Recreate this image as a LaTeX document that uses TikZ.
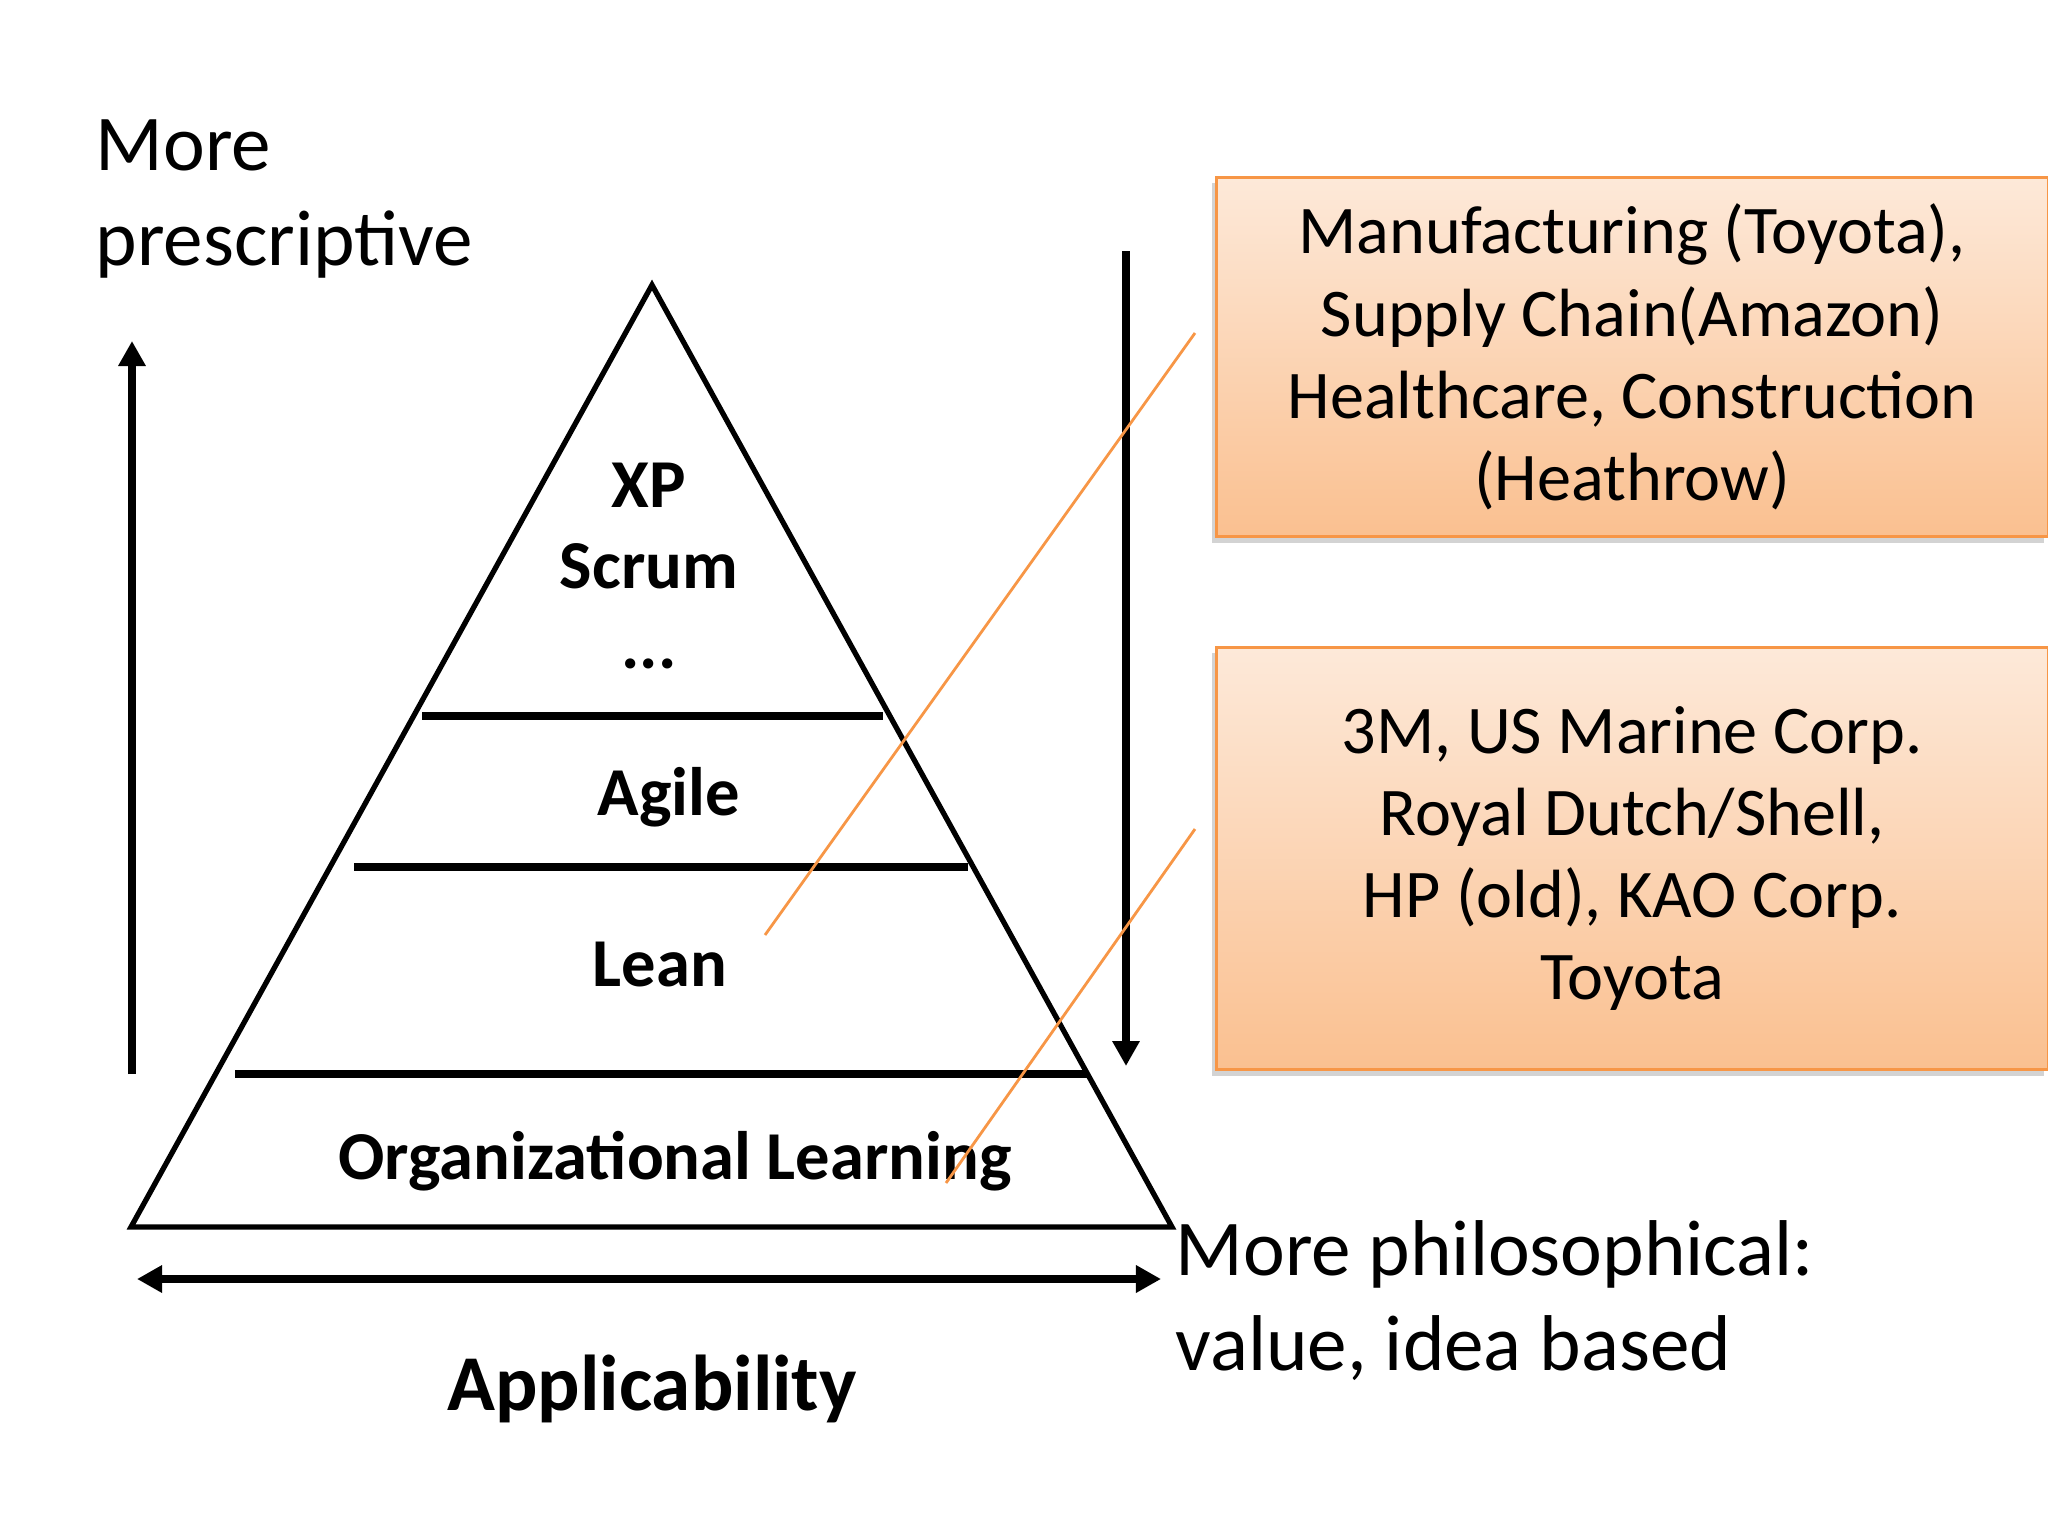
\documentclass[tikz,border=0pt]{standalone}
\usepackage{fontspec}
\setmainfont{Carlito}
\usetikzlibrary{arrows.meta,shadows}

\definecolor{boxline}{HTML}{F79646}
\definecolor{boxtop}{HTML}{FDE9D9}
\definecolor{boxbottom}{HTML}{FAC090}

\begin{document}
\begin{tikzpicture}[x=0.01cm, y=-0.01cm]
	\tikzstyle{tier}=[inner sep=0, font=\fontsize{19.5}{23}\selectfont\bfseries, align=center]
	\tikzstyle{sidetext}=[inner sep=0, font=\fontsize{22.5}{27}\selectfont, align=left]
	\tikzstyle{note}=[draw=boxline, line width=0.8pt, top color=boxtop, bottom color=boxbottom,
		minimum width=8.31cm, inner sep=0, font=\fontsize{19.4}{23.4}\selectfont, align=center,
		drop shadow={shadow xshift=-0.4mm, shadow yshift=-0.6mm, opacity=0.35}]
	\tikzstyle{bigarrow}=[line width=2.4pt, >={Triangle[length=0.25cm, width=0.26cm]}]
	\tikzstyle{link}=[draw=boxline, line width=0.8pt]
	\useasboundingbox (0,0) rectangle (2048,1536);
	% Pyramid
	\draw[line width=1.5pt, line join=miter] (131,1227) -- (652,285) -- (1172,1227) -- cycle;
	\foreach \xa/\xb/\y in {422/883/716, 354/968/867, 235/1087/1074}
		\draw[line width=2.3pt] (\xa,\y) -- (\xb,\y);
	% Tiers
	\node[tier] (top) at (649,566) {XP\\Scrum\\...};
	\node[tier, anchor=base] (agile) at (669,815) {Agile};
	\node[tier, anchor=base] (lean) at (660,986) {Lean};
	\node[tier, anchor=base] (org) at (675,1179) {Organizational Learning};
	\node[tier, anchor=base, font=\fontsize{22.5}{27}\selectfont\bfseries] (appl) at (652,1410) {Applicability};
	% Side texts
	\node[sidetext, anchor=base west] (prescr) at (95,265) {More\\prescriptive};
	\node[sidetext, anchor=base west] (philo) at (1175,1370) {More philosophical:\\value, idea based};
	% Arrows
	\coordinate (up_1) at (132,1074);
	\coordinate (up_2) at (132,341);
	\coordinate (down_1) at (1126,251);
	\coordinate (down_2) at (1126,1066);
	\coordinate (wide_1) at (137,1279);
	\coordinate (wide_2) at (1161,1279);
	\draw[bigarrow, ->] (up_1) -- (up_2);
	\draw[bigarrow, ->] (down_1) -- (down_2);
	\draw[bigarrow, <->] (wide_1) -- (wide_2);
	% Examples
	\node[note, anchor=north west, minimum height=3.59cm] (box_1) at (1215,176)
		{Manufacturing (Toyota),\\Supply Chain(Amazon)\\Healthcare, Construction\\(Heathrow)};
	\node[note, anchor=north west, minimum height=4.22cm] (box_2) at (1215,646)
		{3M, US Marine Corp.\\Royal Dutch/Shell,\\HP (old), KAO Corp.\\Toyota};
	%---------------------%
	\coordinate (lean_tip) at (765,935);
	\coordinate (box_1_tail) at (1195,333);
	\coordinate (org_tip) at (946,1183);
	\coordinate (box_2_tail) at (1195,829);
	\draw[link] (lean_tip) -- (box_1_tail);
	\draw[link] (org_tip) -- (box_2_tail);
\end{tikzpicture}
\end{document}
